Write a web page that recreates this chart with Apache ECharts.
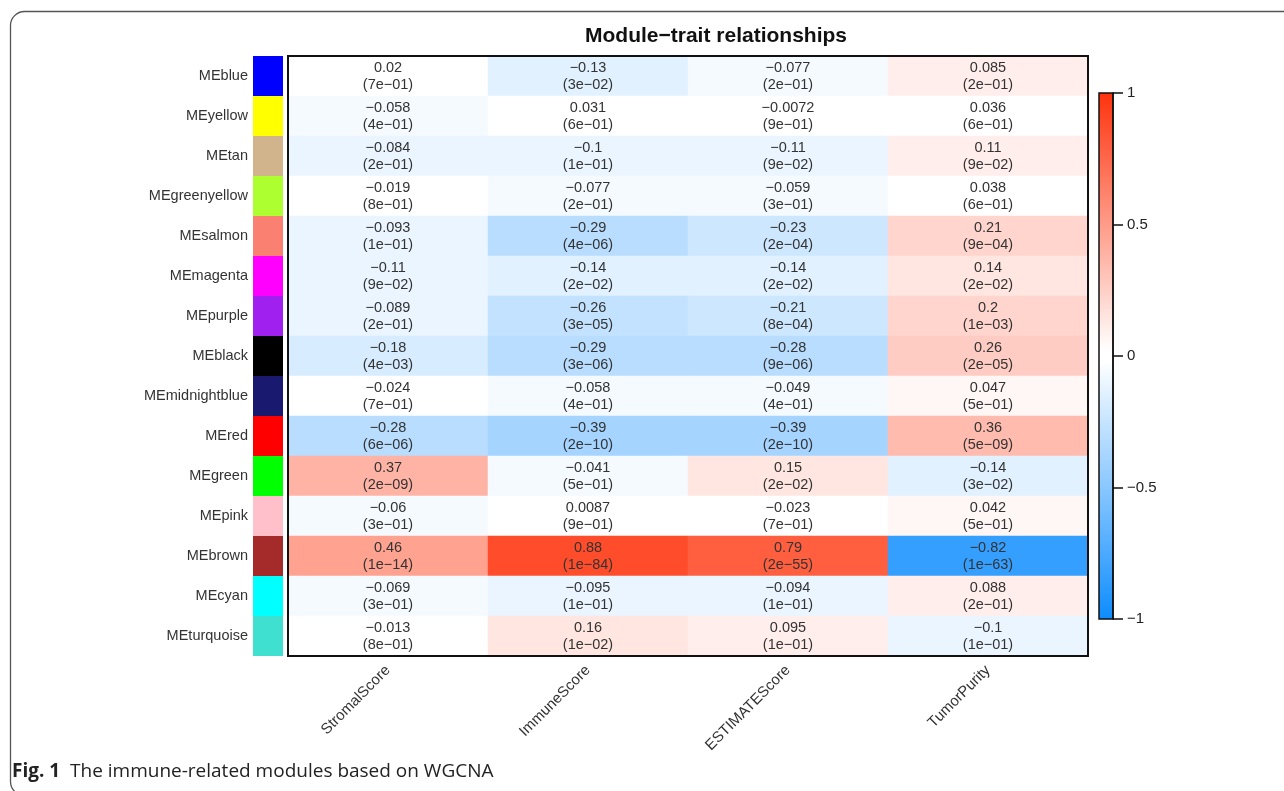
<!DOCTYPE html>
<html>
<head>
<meta charset="utf-8">
<script src="https://cdn.jsdelivr.net/npm/echarts@6/dist/echarts.min.js"></script>
<style>
  html, body { margin: 0; padding: 0; background: #fff; }
  #chart { width: 1284px; height: 791px; }
</style>
</head>
<body>
<div id="chart"></div>
<script>
// Module eigengenes (rows) and traits (columns)
const modules = ['MEblue', 'MEyellow', 'MEtan', 'MEgreenyellow', 'MEsalmon', 'MEmagenta', 'MEpurple',
  'MEblack', 'MEmidnightblue', 'MEred', 'MEgreen', 'MEpink', 'MEbrown', 'MEcyan', 'MEturquoise'];
const moduleColors = ['#0000FF', '#FFFF00', '#D2B48C', '#ADFF2F', '#FA8072', '#FF00FF', '#A020F0',
  '#000000', '#191970', '#FF0000', '#00FF00', '#FFC0CB', '#A52A2A', '#00FFFF', '#40E0D0'];
const traits = ['StromalScore', 'ImmuneScore', 'ESTIMATEScore', 'TumorPurity'];

// Correlation of each module with each trait (row order as modules)
const corr = [
  [0.02, -0.13, -0.077, 0.085],
  [-0.058, 0.031, -0.0072, 0.036],
  [-0.084, -0.1, -0.11, 0.11],
  [-0.019, -0.077, -0.059, 0.038],
  [-0.093, -0.29, -0.23, 0.21],
  [-0.11, -0.14, -0.14, 0.14],
  [-0.089, -0.26, -0.21, 0.2],
  [-0.18, -0.29, -0.28, 0.26],
  [-0.024, -0.058, -0.049, 0.047],
  [-0.28, -0.39, -0.39, 0.36],
  [0.37, -0.041, 0.15, -0.14],
  [-0.06, 0.0087, -0.023, 0.042],
  [0.46, 0.88, 0.79, -0.82],
  [-0.069, -0.095, -0.094, 0.088],
  [-0.013, 0.16, 0.095, -0.1]
];

// Corresponding p-values
const pvals = [
  ['7e-01', '3e-02', '2e-01', '2e-01'],
  ['4e-01', '6e-01', '9e-01', '6e-01'],
  ['2e-01', '1e-01', '9e-02', '9e-02'],
  ['8e-01', '2e-01', '3e-01', '6e-01'],
  ['1e-01', '4e-06', '2e-04', '9e-04'],
  ['9e-02', '2e-02', '2e-02', '2e-02'],
  ['2e-01', '3e-05', '8e-04', '1e-03'],
  ['4e-03', '3e-06', '9e-06', '2e-05'],
  ['7e-01', '4e-01', '4e-01', '5e-01'],
  ['6e-06', '2e-10', '2e-10', '5e-09'],
  ['2e-09', '5e-01', '2e-02', '3e-02'],
  ['3e-01', '9e-01', '7e-01', '5e-01'],
  ['1e-14', '1e-84', '2e-55', '1e-63'],
  ['3e-01', '1e-01', '1e-01', '2e-01'],
  ['8e-01', '1e-02', '1e-01', '1e-01']
];

// Colour scale ticks
const scaleTicks = [-1, -0.5, 0, 0.5, 1];

const BLUE_END = [13, 140, 255];
const RED_END = [255, 51, 13];
const FONT = '"Liberation Sans", Arial, sans-serif';
const minus = s => String(s).replace(/-/g, '\u2212');

// Blue-white-red palette in 50 steps over [-1, 1]
const N_STEPS = 50;
const half = N_STEPS / 2;
function mix(end, t) {
  const c = end.map(e => Math.round(255 + (e - 255) * t));
  return 'rgb(' + c.join(',') + ')';
}
const pieces = [];
for (let i = 0; i < N_STEPS; i++) {
  const lo = -1 + i * 2 / N_STEPS;
  const hi = lo + 2 / N_STEPS;
  const color = i < half ? mix(BLUE_END, (half - 1 - i) / (half - 1)) : mix(RED_END, (i - half) / (half - 1));
  const p = { gte: lo, color };
  if (i < N_STEPS - 1) p.lt = hi; else p.lte = hi;
  pieces.push(p);
}

const heatData = [];
corr.forEach((row, r) => row.forEach((v, c) => heatData.push([c, r, v, pvals[r][c]])));

const stripData = moduleColors.map(col => ({ value: 1, itemStyle: { color: col } }));

const chart = echarts.init(document.getElementById('chart'), null, { renderer: 'canvas' });

chart.setOption({
  backgroundColor: '#ffffff',
  animation: false,
  grid: [
    { left: 288, top: 56, width: 800, height: 600, show: true, borderColor: '#111', borderWidth: 2, backgroundColor: 'transparent', z: 5 },
    { left: 253, top: 56, width: 30, height: 600 },
    { left: 1099, top: 93, width: 14, height: 526 }
  ],
  xAxis: [
    {
      gridIndex: 0, type: 'category', data: traits, position: 'bottom',
      axisLine: { show: false }, axisTick: { show: false }, splitLine: { show: false },
      axisLabel: { rotate: 45, margin: 12, fontSize: 15, color: '#333', fontFamily: FONT, interval: 0 }
    },
    { gridIndex: 1, type: 'value', min: 0, max: 1, show: false },
    { gridIndex: 2, type: 'value', min: 0, max: 1, show: false }
  ],
  yAxis: [
    {
      gridIndex: 0, type: 'category', data: modules, inverse: true,
      axisLine: { show: false }, axisTick: { show: false }, axisLabel: { show: false }, splitLine: { show: false }
    },
    {
      gridIndex: 1, type: 'category', data: modules, inverse: true,
      axisLine: { show: false }, axisTick: { show: false },
      axisLabel: { margin: 5, fontSize: 14.5, color: '#333', fontFamily: FONT, interval: 0 }
    },
    {
      gridIndex: 2, type: 'value', min: -1, max: 1, interval: 0.5, position: 'right',
      axisLine: { show: true, onZero: false, lineStyle: { color: '#111', width: 1.5 } },
      axisTick: { show: true, inside: false, length: 10, lineStyle: { color: '#111', width: 1.5 } },
      splitLine: { show: false },
      axisLabel: { inside: false, margin: 14, fontSize: 15, color: '#222', fontFamily: FONT,
        customValues: scaleTicks, formatter: v => minus(v) },
      z: 10
    }
  ],
  visualMap: {
    show: false, type: 'piecewise', dimension: 2, seriesIndex: 0, pieces
  },
  series: [
    {
      type: 'heatmap', xAxisIndex: 0, yAxisIndex: 0, data: heatData,
      label: {
        show: true, fontSize: 14.5, lineHeight: 17, color: '#333', fontFamily: FONT,
        formatter: p => minus(p.data[2]) + '\n(' + minus(p.data[3]) + ')'
      },
      itemStyle: { borderWidth: 0 },
      emphasis: { disabled: true }
    },
    {
      type: 'bar', xAxisIndex: 1, yAxisIndex: 1, data: stripData,
      barWidth: '100%', barCategoryGap: '0%', silent: true
    }
  ],
  graphic: [
    {
      type: 'rect', silent: true, z: -1,
      shape: { x: 10.5, y: 11.5, width: 1320, height: 784, r: 14 },
      style: { fill: 'none', stroke: '#555', lineWidth: 1.3 }
    },
    {
      type: 'text', x: 716, y: 36, silent: true,
      style: { text: 'Module\u2212trait relationships', textAlign: 'center', textVerticalAlign: 'middle',
        font: 'bold 21px ' + FONT, fill: '#111' }
    },
    {
      type: 'rect', silent: true, z: 1,
      shape: { x: 1099, y: 93, width: 14, height: 526 },
      style: {
        fill: new echarts.graphic.LinearGradient(0, 0, 0, 1, [
          { offset: 0, color: mix(RED_END, 1) }, { offset: 0.49, color: '#FFFFFF' },
          { offset: 0.51, color: '#FFFFFF' }, { offset: 1, color: mix(BLUE_END, 1) }
        ]),
        stroke: '#111', lineWidth: 1.5
      }
    },
    {
      type: 'text', x: 12, y: 772, silent: true,
      style: {
        text: '{b|Fig. 1}  The immune-related modules based on WGCNA',
        textVerticalAlign: 'middle',
        font: '19px "Open Sans", sans-serif', fill: '#222',
        rich: { b: { fontWeight: 'bold', fontSize: 19, fontFamily: '"Open Sans", sans-serif', fill: '#222' } }
      }
    }
  ]
});
</script>
</body>
</html>
